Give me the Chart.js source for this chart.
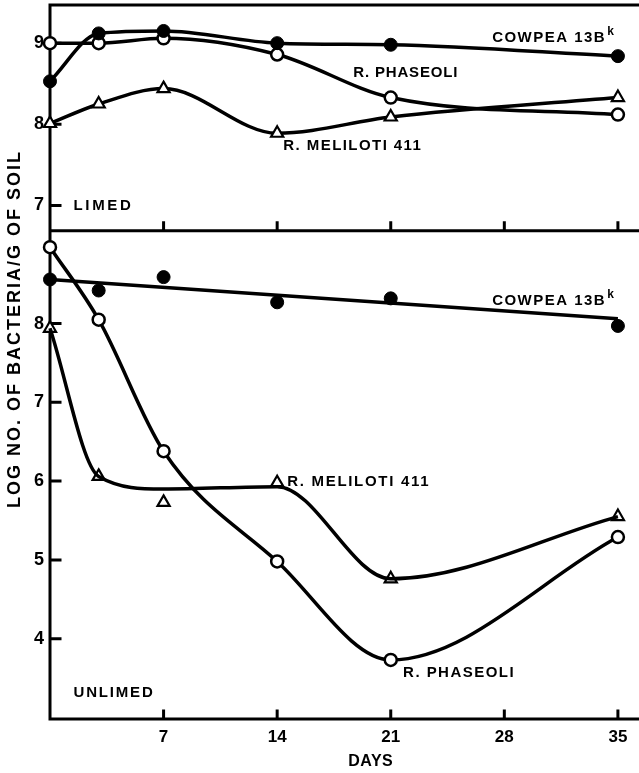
<!DOCTYPE html>
<html><head><meta charset="utf-8">
<script src="https://cdn.jsdelivr.net/npm/chart.js@4.4.1/dist/chart.umd.min.js"></script>
<style>html,body{margin:0;padding:0;background:#fff}#wrap{width:639px;height:773px;position:relative}</style>
</head><body><div id="wrap"><canvas id="c"></canvas></div>
<script>
// ---- data ----
const days = [0, 3, 7, 14, 21, 35];
const limedCowpea   = [8.53, 9.12, 9.15, 9.00, 8.98, 8.84];
const limedPhaseoli = [9.00, 9.00, 9.06, 8.86, 8.33, 8.12];
const limedMeliloti = [8.01, 8.25, 8.44, 7.89, 8.09, 8.33];
const unlimedCowpea   = [8.56, 8.42, 8.59, 8.27, 8.32, 7.97];
const unlimedCowpeaFitDays = [0, 35];
const unlimedCowpeaFit     = [8.56, 8.06];
const unlimedPhaseoli = [8.97, 8.05, 6.38, 4.98, 3.73, 5.29];
const unlimedMeliloti = [7.94, 6.06, 5.73, 5.98, 4.76, 5.55];
const unlimedMelilotiCurve = [7.94, 6.06, 5.90, 5.93, 4.76, 5.55];
const xTicks = [7, 14, 21, 28, 35];
const limedTicks = [7, 8, 9];
const unlimedTicks = [4, 5, 6, 7, 8];

const pts = (xs, ys) => xs.map((x, i) => ({x, y: ys[i]}));
const FONT = '"Liberation Sans", Arial, sans-serif';

const filled = {pointStyle:'circle', pointRadius:6.5, pointBackgroundColor:'#000', pointBorderColor:'#000', pointBorderWidth:1};
const open   = {pointStyle:'circle', pointRadius:6, pointBackgroundColor:'#fff', pointBorderColor:'#000', pointBorderWidth:2.5};
const tri    = {pointStyle:'triangle', pointRadius:7, pointBackgroundColor:'#fff', pointBorderColor:'#000', pointBorderWidth:2.2};
const curve  = {borderColor:'#000', borderWidth:3.5, cubicInterpolationMode:'monotone', fill:false, clip:false};

const annotations = [
  {text:'COWPEA 13B', sup:'k', axis:'yL', x:27.25, y:9.07, w:114},
  {text:'R. PHASEOLI', axis:'yL', x:18.69, y:8.63, w:105},
  {text:'R. MELILOTI 411', axis:'yL', x:14.38, y:7.74, w:139},
  {text:'LIMED', axis:'yL', x:1.45, y:6.99, w:60},
  {text:'COWPEA 13B', sup:'k', axis:'yU', x:27.25, y:8.29, w:114},
  {text:'R. MELILOTI 411', axis:'yU', x:14.62, y:5.99, w:143},
  {text:'R. PHASEOLI', axis:'yU', x:21.76, y:3.57, w:112},
  {text:'UNLIMED', axis:'yU', x:1.45, y:3.31, w:81}
];

function spaced(ctx, text, x, y, w, font, align) {
  ctx.font = font;
  ctx.letterSpacing = '0px';
  const nat = ctx.measureText(text).width;
  const ls = (w - nat) / text.length;
  ctx.letterSpacing = ls + 'px';
  ctx.textAlign = align || 'left';
  ctx.fillText(text, x, y);
  const width = ctx.measureText(text).width;
  ctx.letterSpacing = '0px';
  return width;
}

const framePlugin = {
  id: 'frame',
  beforeDatasetsDraw(chart) {
    const {ctx, chartArea: ca, scales} = chart;
    const yL = scales.yL, yU = scales.yU, x = scales.x;
    ctx.save();
    ctx.strokeStyle = '#000';
    ctx.lineWidth = 3;
    ctx.lineCap = 'square';
    ctx.beginPath();
    ctx.moveTo(ca.left, yL.top); ctx.lineTo(ca.right, yL.top);
    ctx.moveTo(ca.left, yL.bottom); ctx.lineTo(ca.right, yL.bottom);
    ctx.moveTo(ca.left, yU.bottom); ctx.lineTo(ca.right, yU.bottom);
    ctx.moveTo(ca.left, yL.top); ctx.lineTo(ca.left, yU.bottom);
    xTicks.forEach(t => {
      const px = x.getPixelForValue(t);
      ctx.moveTo(px, yL.bottom); ctx.lineTo(px, yL.bottom - 8);
      ctx.moveTo(px, yU.bottom); ctx.lineTo(px, yU.bottom - 8);
    });
    limedTicks.forEach(t => { const py = yL.getPixelForValue(t); ctx.moveTo(ca.left, py); ctx.lineTo(ca.left + 10, py); });
    unlimedTicks.forEach(t => { const py = yU.getPixelForValue(t); ctx.moveTo(ca.left, py); ctx.lineTo(ca.left + 10, py); });
    ctx.stroke();
    ctx.restore();
  },
  afterDraw(chart) {
    const {ctx, chartArea: ca, scales} = chart;
    ctx.save();
    ctx.fillStyle = '#000';
    ctx.textBaseline = 'middle';
    annotations.forEach(a => {
      const px = scales.x.getPixelForValue(a.x);
      const py = scales[a.axis].getPixelForValue(a.y);
      const wd = spaced(ctx, a.text, px, py, a.w, 'bold 15px ' + FONT);
      if (a.sup) {
        ctx.font = 'bold 12px ' + FONT;
        ctx.textAlign = 'left';
        ctx.fillText(a.sup, px + wd + 1, py - 6);
      }
    });
    // x axis title
    spaced(ctx, 'DAYS', scales.x.getPixelForValue(18.38), ca.bottom + 43, 45, 'bold 16px ' + FONT);
    // y axis title
    ctx.translate(15, 329);
    ctx.rotate(-Math.PI / 2);
    spaced(ctx, 'LOG NO. OF BACTERIA/G OF SOIL', 0, 0, 358, 'bold 18px ' + FONT, 'center');
    ctx.restore();
  }
};

const yCommon = (min, max, ticks, weight) => ({
  type: 'linear', position: 'left', stack: 'panels', stackWeight: weight,
  min, max,
  afterBuildTicks: s => { s.ticks = ticks.map(v => ({value: v})); },
  afterFit: s => { s.width = 50; s.paddingTop = 0; s.paddingBottom = 0; },
  grid: {display: false, drawTicks: false},
  border: {display: false},
  ticks: {color: '#000', padding: 6, font: {family: FONT, weight: 'bold', size: 18}}
});

new Chart(document.getElementById('c'), {
  type: 'line',
  data: {
    datasets: [
      Object.assign({data: pts(days, limedCowpea), yAxisID: 'yL'}, curve, filled),
      Object.assign({data: pts(days, limedPhaseoli), yAxisID: 'yL'}, curve, open),
      Object.assign({data: pts(days, limedMeliloti), yAxisID: 'yL'}, curve, tri),
      Object.assign({data: pts(unlimedCowpeaFitDays, unlimedCowpeaFit), yAxisID: 'yU', pointRadius: 0}, curve, {cubicInterpolationMode: 'default', tension: 0}),
      Object.assign({data: pts(days, unlimedCowpea), yAxisID: 'yU', showLine: false, clip: false}, filled),
      Object.assign({data: pts(days, unlimedMelilotiCurve), yAxisID: 'yU', pointRadius: 0}, curve),
      Object.assign({data: pts(days, unlimedMeliloti), yAxisID: 'yU', showLine: false, clip: false}, tri),
      Object.assign({data: pts(days, unlimedPhaseoli), yAxisID: 'yU'}, curve, open)
    ]
  },
  options: {
    responsive: true, maintainAspectRatio: false, animation: false, devicePixelRatio: 1,
    layout: {autoPadding: false, padding: {top: 5, right: 0, left: 0, bottom: 0}},
    plugins: {legend: {display: false}, tooltip: {enabled: false}},
    scales: {
      x: {
        type: 'linear', position: 'bottom', min: 0, max: 36.3,
        afterBuildTicks: s => { s.ticks = xTicks.map(v => ({value: v})); },
        afterFit: s => { s.height = 54; s.paddingLeft = 0; s.paddingRight = 0; },
        grid: {display: false, drawTicks: false},
        border: {display: false},
        ticks: {color: '#000', padding: 8, font: {family: FONT, weight: 'bold', size: 17}}
      },
      yU: yCommon(2.98, 9.18, unlimedTicks, 487),
      yL: yCommon(6.69, 9.47, limedTicks, 225)
    }
  },
  plugins: [framePlugin]
});
</script></body></html>
